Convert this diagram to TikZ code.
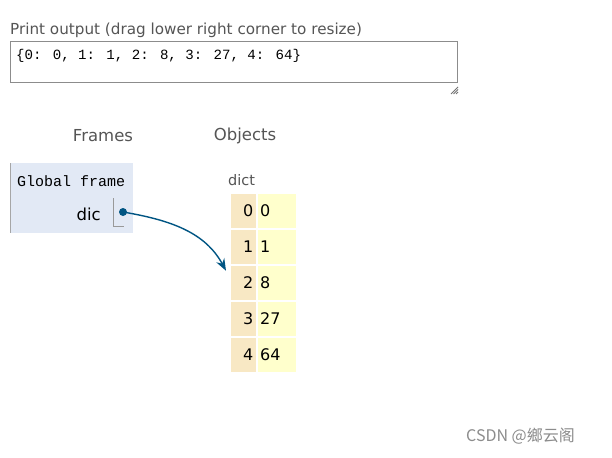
\documentclass[tikz,border=0pt]{standalone}
\usepackage{fontspec}
\setmainfont{DejaVu Sans}
\newfontfamily\monof{Liberation Mono}
\newfontfamily\cjkf{Noto Sans CJK SC}
\usetikzlibrary{arrows.meta}
\definecolor{lbl}{HTML}{555555}
\definecolor{framebg}{HTML}{E2E9F5}
\definecolor{keybg}{HTML}{F8E8C4}
\definecolor{valbg}{HTML}{FFFFCC}
\definecolor{ptr}{HTML}{005583}
\tikzset{
  head/.style={font=\fontsize{16.5}{19}\selectfont, text=lbl, inner sep=0pt},
  cellk/.style={fill=keybg, draw=white, line width=1.5pt, minimum width=27pt, minimum height=36pt, inner sep=0pt, font=\fontsize{16}{19}\selectfont, anchor=north west},
  cellv/.style={fill=valbg, draw=white, line width=1.5pt, minimum width=40pt, minimum height=36pt, inner sep=0pt, font=\fontsize{16}{19}\selectfont, anchor=north west},
}
\begin{document}
\begin{tikzpicture}[x=1pt,y=-1pt]
\useasboundingbox[fill=white] (0,0) rectangle (612,457);
% print output
\node[head, anchor=west, font=\fontsize{15.2}{18}\selectfont] (ptitle) at (10,30) {Print output (drag lower right corner to resize)};
\node[draw=black!45, line width=0.8pt, minimum width=447pt, minimum height=41pt, anchor=north west, inner sep=0pt] (pbox) at (10,41) {};
\node[anchor=west, inner sep=0pt, font=\monof\fontsize{14.1}{17}\selectfont] (ptext) at (16,56) {\{0: 0, 1: 1, 2: 8, 3: 27, 4: 64\}};
\foreach \o in {0,2.5,5}{\draw[black!55, line width=0.8pt] (458,87+\o) -- (451+\o,94);}
% headers
\node[head] (frames) at (103,136) {Frames};
\node[head] (objects) at (245,136) {Objects};
% global frame
\fill[framebg] (10,163) rectangle (133,233);
\draw[black!35, line width=0.8pt] (10,163) -- (10,233);
\node[anchor=west, inner sep=0pt, font=\monof\fontsize{15}{18}\selectfont] (gf) at (17,181) {Global frame};
\node[anchor=east, inner sep=0pt, font=\fontsize{16.5}{19}\selectfont] (dic) at (101,214) {dic};
\draw[black!40, line width=0.8pt] (113,198) -- (113,226) -- (124,226);
\node[circle, fill=ptr, minimum size=8pt, inner sep=0pt] (dot) at (123,212) {};
% dict
\node[anchor=west, inner sep=0pt, font=\fontsize{14.5}{17}\selectfont, text=lbl] (dictlbl) at (228,180) {dict};
\foreach \k/\v [count=\i from 0] in {0/0,1/1,2/8,3/27,4/64}{
  \node[cellk] (k\i) at (229,192+36*\i) {};
  \node[anchor=east, inner sep=0pt, font=\fontsize{16}{19}\selectfont] at ([xshift=-4pt]k\i.east) {\k};
  \node[cellv] (v\i) at (256,192+36*\i) {};
  \node[anchor=west, inner sep=0pt, font=\fontsize{16}{19}\selectfont] at ([xshift=4pt]v\i.west) {\v};
}
% pointer
\coordinate (tip) at ([yshift=12pt,xshift=-3pt]k2.west);
\draw[ptr, line width=1.4pt, -{Stealth[length=12pt,width=9pt]}] (dot.center) .. controls (170,220) and (205,232) .. (tip);
% watermark
\node[anchor=west, inner sep=0pt, text=black!45, font=\cjkf\fontsize{16}{18}\selectfont] (wm) at (466,436) {CSDN @鄉云阁};
\end{tikzpicture}
\end{document}
